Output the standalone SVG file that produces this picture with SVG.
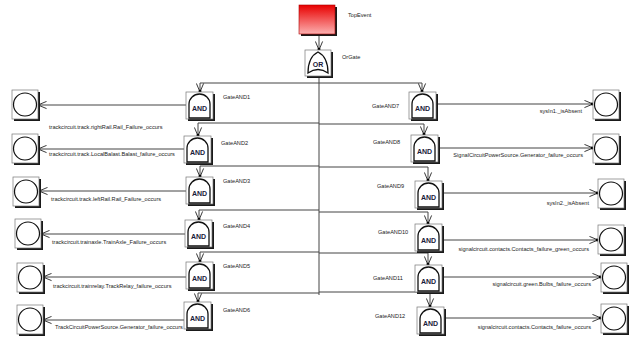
<svg xmlns="http://www.w3.org/2000/svg" width="637" height="341" viewBox="0 0 637 341">
<style>
.lbl{font-family:"Liberation Sans",Arial,sans-serif;font-size:5.6px;fill:#222}
.r{text-anchor:end}
.con{fill:none;stroke:#444;stroke-width:1;marker-end:url(#arr)}
.sh{fill:#1a1a1a}
.bx{fill:#fff;stroke:#777;stroke-width:0.7}
.dome{fill:#fff;stroke:#111;stroke-width:1.3}
.gt{font-family:"Liberation Sans",Arial,sans-serif;font-size:7px;font-weight:bold;fill:#1a1a3a;text-anchor:middle}
.circ{fill:#fff;stroke:#111;stroke-width:1.2}
</style>
<defs>
<marker id="arr" viewBox="0 0 10 10" refX="9.5" refY="5" markerWidth="9" markerHeight="9" markerUnits="userSpaceOnUse" orient="auto">
<path d="M0,1 L9.5,5 L0,9" fill="none" stroke="#222" stroke-width="1"/>
<circle cx="8.6" cy="5" r="1.6" fill="#000"/>
</marker>
<linearGradient id="red" x1="0" y1="0" x2="0" y2="1">
<stop offset="0" stop-color="#e80000"/>
<stop offset="1" stop-color="#fcb0b0"/>
</linearGradient>
<g id="and">
<rect class="sh" x="2" y="2" width="27" height="27"/>
<rect class="bx" x="0" y="0" width="27" height="27"/>
<path class="dome" d="M3,26 V12 A10.5,10 0 0 1 24,12 V26 Z"/>
<text class="gt" x="13.5" y="19">AND</text>
</g>
<g id="ev">
<rect class="sh" x="2" y="2" width="26" height="29"/>
<rect class="bx" x="0" y="0" width="26" height="29"/>
<circle class="circ" cx="13" cy="14.5" r="11.5"/>
</g>
</defs>

<g id="connectors">
<line class="con" x1="319" y1="35" x2="319" y2="50"/>
<line x1="319" y1="76" x2="319" y2="295" stroke="#444" stroke-width="1"/>
<polyline class="con" points="319,83 200,83 200,92"/>
<polyline class="con" points="319,123 198,123 198,136"/>
<polyline class="con" points="319,166 200,166 200,177"/>
<polyline class="con" points="319,210 199,210 199,220"/>
<polyline class="con" points="319,252 200,252 200,262"/>
<polyline class="con" points="319,293 198,293 198,302"/>
<polyline class="con" points="319,83 422,83 422,92"/>
<polyline class="con" points="319,124 424,124 424,135"/>
<polyline class="con" points="319,167 428,167 428,181"/>
<polyline class="con" points="319,212 428,212 428,224"/>
<polyline class="con" points="319,253 428,253 428,265"/>
<polyline class="con" points="319,292 430,292 430,307"/>
<line class="con" x1="186" y1="105" x2="38" y2="105"/>
<line class="con" x1="184" y1="149" x2="38" y2="149"/>
<line class="con" x1="186" y1="191" x2="39" y2="191"/>
<line class="con" x1="185" y1="234" x2="41" y2="234"/>
<line class="con" x1="186" y1="277" x2="43" y2="277"/>
<line class="con" x1="184" y1="320" x2="43" y2="320"/>
<line class="con" x1="436" y1="104" x2="593" y2="104"/>
<line class="con" x1="438" y1="148" x2="593" y2="148"/>
<line class="con" x1="442" y1="193" x2="598" y2="193"/>
<line class="con" x1="442" y1="240" x2="598" y2="240"/>
<line class="con" x1="442" y1="277" x2="601" y2="277"/>
<line class="con" x1="444" y1="318" x2="601" y2="318"/>
</g>

<g id="TopEvent">
<rect class="sh" x="301" y="7" width="36" height="29"/>
<rect x="299" y="5" width="36" height="29" fill="url(#red)" stroke="#a00" stroke-width="0.6"/>
<text class="lbl" x="348" y="17">TopEvent</text>
</g>

<g id="OrGate">
<rect class="sh" x="307" y="52" width="26" height="26"/>
<rect class="bx" x="305" y="50" width="26" height="26"/>
<path class="dome" d="M308,73 C308,62 312,55 318,52 C324,55 328,62 328,73 Q318,66 308,73 Z"/>
<text class="gt" x="318" y="67">OR</text>
<text class="lbl" x="342" y="59">OrGate</text>
</g>

<g id="GateAND1"><use href="#and" x="186" y="92"/><text class="lbl" x="223" y="99">GateAND1</text></g>
<g id="GateAND2"><use href="#and" x="184" y="136"/><text class="lbl" x="221" y="145">GateAND2</text></g>
<g id="GateAND3"><use href="#and" x="186" y="177"/><text class="lbl" x="223" y="183">GateAND3</text></g>
<g id="GateAND4"><use href="#and" x="185" y="220"/><text class="lbl" x="223" y="228">GateAND4</text></g>
<g id="GateAND5"><use href="#and" x="186" y="262"/><text class="lbl" x="223" y="268">GateAND5</text></g>
<g id="GateAND6"><use href="#and" x="184" y="302"/><text class="lbl" x="223" y="312">GateAND6</text></g>
<g id="GateAND7"><use href="#and" x="409" y="92"/><text class="lbl" x="372" y="108">GateAND7</text></g>
<g id="GateAND8"><use href="#and" x="411" y="135"/><text class="lbl" x="373" y="144">GateAND8</text></g>
<g id="GateAND9"><use href="#and" x="415" y="181"/><text class="lbl" x="377" y="188">GateAND9</text></g>
<g id="GateAND10"><use href="#and" x="415" y="224"/><text class="lbl" x="378" y="234">GateAND10</text></g>
<g id="GateAND11"><use href="#and" x="415" y="265"/><text class="lbl" x="373" y="280">GateAND11</text></g>
<g id="GateAND12"><use href="#and" x="417" y="307"/><text class="lbl" x="375" y="318">GateAND12</text></g>

<g id="ev1"><use href="#ev" x="12" y="90"/><text class="lbl" x="49" y="129">trackcircuit.track.rightRail.Rail_Failure_occurs</text></g>
<g id="ev2"><use href="#ev" x="12" y="134"/><text class="lbl" x="49" y="156">trackcircuit.track.LocalBalast.Balast_failure_occurs</text></g>
<g id="ev3"><use href="#ev" x="13" y="177"/><text class="lbl" x="51" y="201">trackcircuit.track.leftRail.Rail_Failure_occurs</text></g>
<g id="ev4"><use href="#ev" x="15" y="219"/><text class="lbl" x="52" y="244">trackcircuit.trainaxle.TrainAxle_Failure_occurs</text></g>
<g id="ev5"><use href="#ev" x="17" y="263"/><text class="lbl" x="53" y="288">trackcircuit.trainrelay.TrackRelay_failure_occurs</text></g>
<g id="ev6"><use href="#ev" x="17" y="305"/><text class="lbl" x="55" y="329">TrackCircuitPowerSource.Generator_failure_occurs</text></g>
<g id="ev7"><use href="#ev" x="593" y="90"/><text class="lbl r" x="582" y="113">sysIn1._isAbsent</text></g>
<g id="ev8"><use href="#ev" x="593" y="134"/><text class="lbl r" x="583" y="157">SignalCircuitPowerSource.Generator_failure_occurs</text></g>
<g id="ev9"><use href="#ev" x="598" y="179"/><text class="lbl r" x="589" y="205">sysIn2._isAbsent</text></g>
<g id="ev10"><use href="#ev" x="598" y="225"/><text class="lbl r" x="589" y="251">signalcircuit.contacts.Contacts_failure_green_occurs</text></g>
<g id="ev11"><use href="#ev" x="601" y="263"/><text class="lbl r" x="591" y="286">signalcircuit.green.Bulbs_failure_occurs</text></g>
<g id="ev12"><use href="#ev" x="601" y="304"/><text class="lbl r" x="591" y="329">signalcircuit.contacts.Contacts_failure_occurs</text></g>
</svg>
